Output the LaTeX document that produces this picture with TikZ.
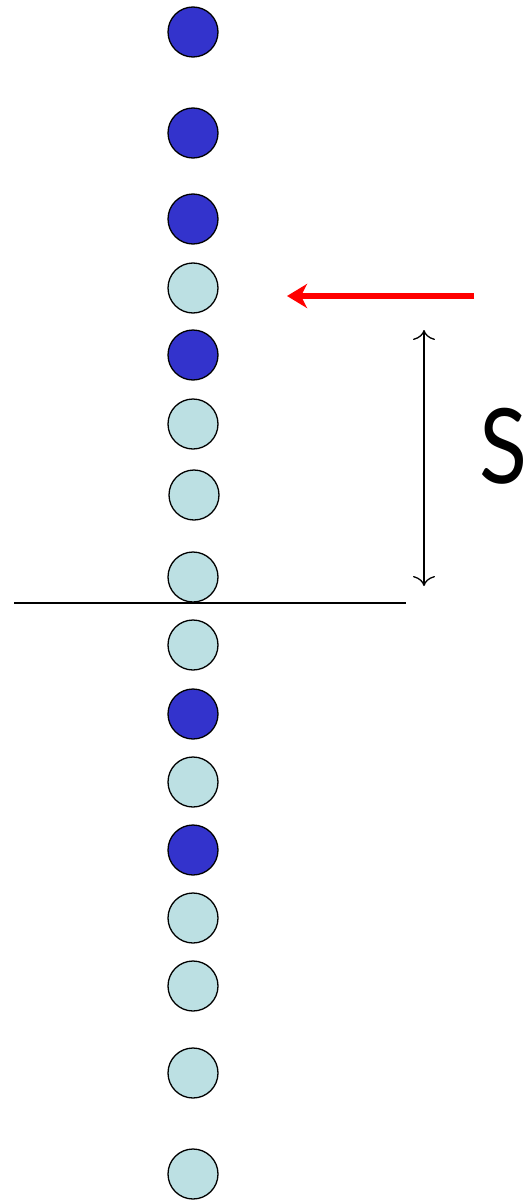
\documentclass[tikz,border=0pt]{standalone}
\usepackage{fontspec}
\setmainfont{Lato}
\usetikzlibrary{arrows.meta}
\definecolor{darkb}{HTML}{3333CC}
\definecolor{lightb}{HTML}{BCE0E3}
\begin{document}
\begin{tikzpicture}[x=1pt,y=-1pt,
  ball/.style={circle,draw=black,line width=1.3pt,minimum size=50pt,inner sep=0pt},
  dk/.style={ball,fill=darkb},
  lt/.style={ball,fill=lightb}]
\useasboundingbox (0,0) rectangle (529,1204);
\node[dk] (b1) at (193,32) {};
\node[dk] (b2) at (193,133) {};
\node[dk] (b3) at (193,219) {};
\node[lt] (b4) at (193,288) {};
\node[dk] (b5) at (193,355) {};
\node[lt] (b6) at (193,424) {};
\node[lt] (b7) at (194,495) {};
\node[lt] (b8) at (193,577) {};
\node[lt] (b9) at (193,645) {};
\node[dk] (b10) at (193,714) {};
\node[lt] (b11) at (193,782) {};
\node[dk] (b12) at (193,850) {};
\node[lt] (b13) at (193,918) {};
\node[lt] (b14) at (193,986) {};
\node[lt] (b15) at (193,1073) {};
\node[lt] (b16) at (193,1174) {};
\coordinate (l1) at (14,603);
\coordinate (l2) at (406,603);
\draw[line width=1.4pt] (l1) -- (l2);
\coordinate (r1) at (474,296);
\coordinate (r2) at (287,296);
\draw[red,line width=6pt,-{Stealth[length=20pt,width=24pt,inset=6pt]}] (r1) -- (r2);
\coordinate (d1) at (424,330);
\coordinate (d2) at (424,586);
\draw[line width=1.3pt,{To[length=10pt,width=22pt]}-{To[length=10pt,width=22pt]}] (d1) -- (d2);
\node[anchor=west,inner sep=0pt,xscale=0.85,font=\fontsize{104}{110}\selectfont] (s) at (479,446) {S};
\end{tikzpicture}
\end{document}
